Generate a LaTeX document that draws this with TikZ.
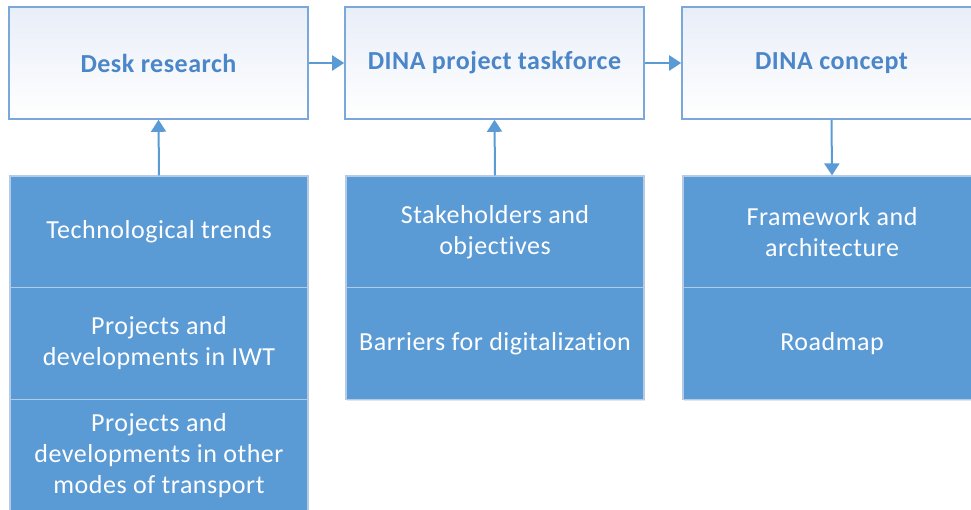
\documentclass[tikz,border=0pt]{standalone}
\usepackage{fontspec}
\setmainfont[Ligatures=NoCommon,LetterSpace=2]{Carlito}
\usetikzlibrary{arrows.meta,shadows}
\definecolor{accent}{HTML}{5B9BD5}
\definecolor{frame}{HTML}{7AA8DA}
\definecolor{titletext}{HTML}{4A86C8}
\definecolor{sep}{HTML}{B4CBE6}
\definecolor{paleblue}{HTML}{E8EEF8}
\tikzset{
  x=1pt, y=-1pt,
  topbox/.style={rectangle, draw=frame, line width=1.6pt, shading=axis, shading angle=135,
    top color=paleblue, bottom color=white,
    minimum width=299pt, minimum height=112pt, inner sep=0pt, align=center,
    font=\fontsize{26}{31}\selectfont\bfseries, text=titletext,
    drop shadow={shadow xshift=1.2pt, shadow yshift=-1.2pt, opacity=0.18}},
  bluebox/.style={rectangle, draw=sep, line width=1.2pt, fill=accent,
    minimum width=298pt, minimum height=112pt, inner sep=0pt, align=center,
    font=\fontsize{26}{31}\selectfont, text=white,
    drop shadow={shadow xshift=1.2pt, shadow yshift=-1.2pt, opacity=0.2}},
  flow/.style={draw=accent, line width=2pt, -{Triangle[width=15pt,length=12pt]}}
}
\begin{document}
\begin{tikzpicture}
\useasboundingbox (0,0) rectangle (971,510);
\clip (0,0) rectangle (971,510);
% top boxes
\node[topbox] (desk) at (158.5,63) {Desk research};
\node[topbox] (task) at (494.5,63) {DINA project taskforce};
\node[topbox] (concept) at (831.5,63) {DINA concept};
% column 1
\node[bluebox] (tech) at (159,232) {Technological trends};
\node[bluebox] (iwt) at (159,343.5) {Projects and\\developments in IWT};
\node[bluebox] (other) at (159,455.5) {Projects and\\developments in other\\modes of transport};
% column 2
\node[bluebox] (stake) at (495,232) {Stakeholders and\\objectives};
\node[bluebox] (barriers) at (495,343.5) {Barriers for digitalization};
% column 3
\node[bluebox] (frame) at (832,232) {Framework and\\architecture};
\node[bluebox] (road) at (832,343.5) {Roadmap};
% connectors
\draw[flow] (desk.east) -- (task.west);
\draw[flow] (task.east) -- (concept.west);
\draw[flow] (tech.north) -- (desk.south);
\draw[flow] (stake.north) -- (task.south);
\draw[flow] (concept.south) -- (frame.north);
\end{tikzpicture}
\end{document}
